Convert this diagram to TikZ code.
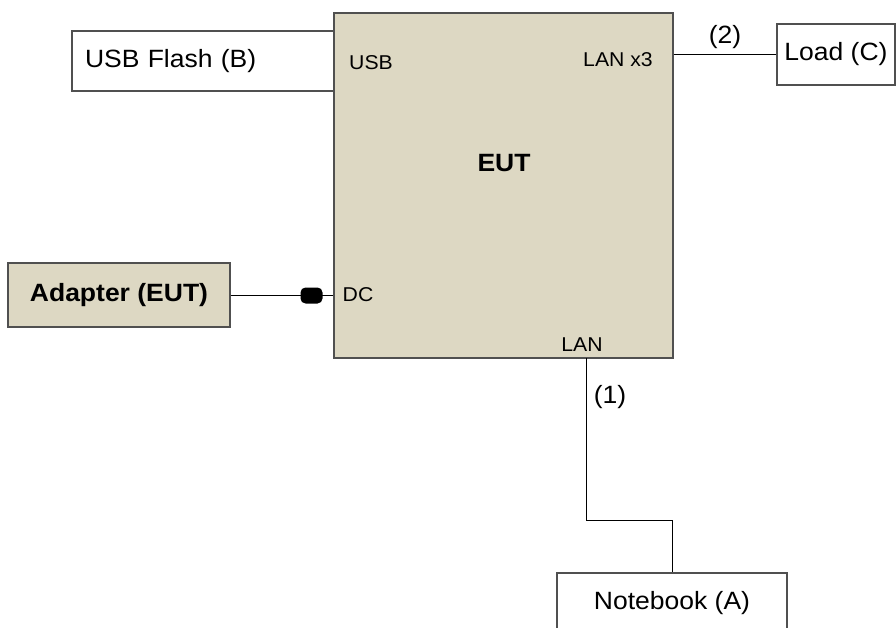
\documentclass[tikz,border=0pt]{standalone}
\usepackage{fontspec}
\setmainfont{Liberation Sans}[FakeStretch=1.06]
\usepackage{tikz}
\usetikzlibrary{positioning, calc}
\usepackage{xcolor}
\definecolor{tancolor}{HTML}{DDD8C3}
\definecolor{edgecolor}{HTML}{505050}

\tikzset{
    unit/.style={draw=edgecolor, line width=1.3pt, inner sep=0pt},
    biglabel/.style={font=\fontsize{25}{30}\selectfont, inner sep=0pt},
    portlabel/.style={font=\fontsize{20}{24}\selectfont, inner sep=0pt},
    wire/.style={black, line width=1pt}
}

\begin{document}
\begin{tikzpicture}[x=1pt, y=-1pt]
    \useasboundingbox (0,0) rectangle (896,628);

    % Main unit
    \node[unit, fill=tancolor, minimum width=339pt, minimum height=345pt] (eut) at (503.5,185.5) {};
    \node[biglabel, font=\fontsize{25}{30}\selectfont\bfseries] (eutlbl) at (504,163) {EUT};

    % Ports
    \node[portlabel] (usblbl) at (371,63) {USB};
    \node[portlabel] (lanxlbl) at (618,60) {LAN x3};
    \node[portlabel] (dclbl) at (358,295) {DC};
    \node[portlabel] (lanlbl) at (582,345) {LAN};

    % Peripherals
    \node[biglabel, unit, fill=white, minimum height=60pt, text width=236pt, inner xsep=13pt,
          align=left] (usb) at (203,61) {USB Flash (B)};
    \node[unit, fill=white, minimum width=118pt, minimum height=61pt, biglabel] (load) at (836,54.5) {Load (C)};
    \node[unit, fill=tancolor, minimum width=222pt, minimum height=64pt,
          biglabel, font=\fontsize{25}{30}\selectfont\bfseries] (adapter) at (119,295) {Adapter (EUT)};
    \node[unit, fill=white, minimum width=230pt, minimum height=60pt, biglabel] (notebook) at (672,603) {Notebook (A)};

    % DC plug
    \node[fill=black, rounded corners=5pt, minimum width=22pt, minimum height=16pt,
          inner sep=0pt] (plug) at (311.5,295.5) {};

    % Cables
    \draw[wire] (adapter.east) -- (adapter.east -| eut.west);
    \draw[wire] (load.west -| eut.east) -- node[biglabel, above=5pt] (cab2) {(2)} (load.west);
    \coordinate (lanport) at (586,358);
    \draw[wire] (lanport) -- ++(0,162) -| (notebook.north);
    \node[biglabel] (cab1) at (610,397) {(1)};
\end{tikzpicture}
\end{document}
